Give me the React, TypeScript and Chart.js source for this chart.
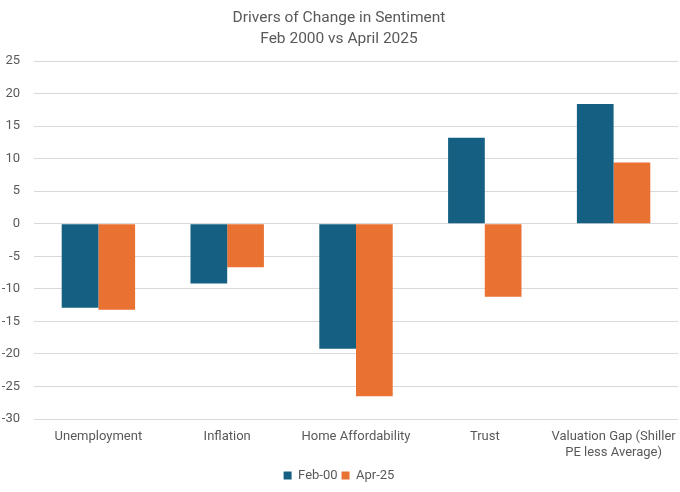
import React, { useEffect, useRef } from "react";
import { Chart, registerables } from "chart.js";

Chart.register(...registerables);

const categories: (string | string[])[] = [
  "Unemployment",
  "Inflation",
  "Home Affordability",
  "Trust",
  ["Valuation Gap (Shiller", "PE less Average)"],
];
const feb00 = [-12.9, -9.2, -19.2, 13.2, 18.4];
const apr25 = [-13.2, -6.7, -26.5, -11.2, 9.4];
const titleLines = ["Drivers of Change in Sentiment", "Feb 2000 vs April 2025"];
const FONT = "Roboto, 'Noto Sans', sans-serif";

export default function App() {
  const ref = useRef<HTMLCanvasElement | null>(null);
  useEffect(() => {
    document.body.style.margin = "0";
    if (!ref.current) return;
    const chart = new Chart(ref.current, {
      type: "bar",
      data: {
        labels: categories,
        datasets: [
          { label: "Feb-00", data: feb00, backgroundColor: "#156082", barPercentage: 1, categoryPercentage: 0.57 },
          { label: "Apr-25", data: apr25, backgroundColor: "#E97132", barPercentage: 1, categoryPercentage: 0.57 },
        ],
      },
      options: {
        animation: false,
        responsive: false,
        maintainAspectRatio: false,
        layout: { padding: { left: 0, right: 2, top: 0, bottom: 0 } },
        plugins: {
          title: {
            display: true,
            text: titleLines,
            color: "#595959",
            font: { family: FONT, size: 15.5, weight: "normal", lineHeight: 1.355 },
            padding: { top: 8, bottom: 11 },
          },
          legend: {
            position: "bottom",
            labels: {
              color: "#595959",
              font: { family: FONT, size: 13 },
              boxWidth: 8,
              boxHeight: 8,
              padding: 4,
            },
          },
          tooltip: { enabled: false },
        },
        scales: {
          x: {
            grid: { display: false },
            border: { display: false },
            ticks: { color: "#595959", font: { family: FONT, size: 13 }, maxRotation: 0, autoSkip: false, padding: 2 },
            afterFit: (s: any) => { s.height = 46; },
          },
          y: {
            min: -30,
            max: 25,
            grid: { color: "#d9d9d9", drawTicks: false },
            border: { display: false },
            ticks: { stepSize: 5, color: "#595959", font: { family: FONT, size: 13 }, padding: 14 },
            afterFit: (s: any) => { s.width = 34; },
          },
        },
      },
    });
    return () => chart.destroy();
  }, []);
  return (
    <div style={{ width: 680, height: 492 }}>
      <canvas ref={ref} width={680} height={492} style={{ width: 680, height: 492, display: "block" }} />
    </div>
  );
}
